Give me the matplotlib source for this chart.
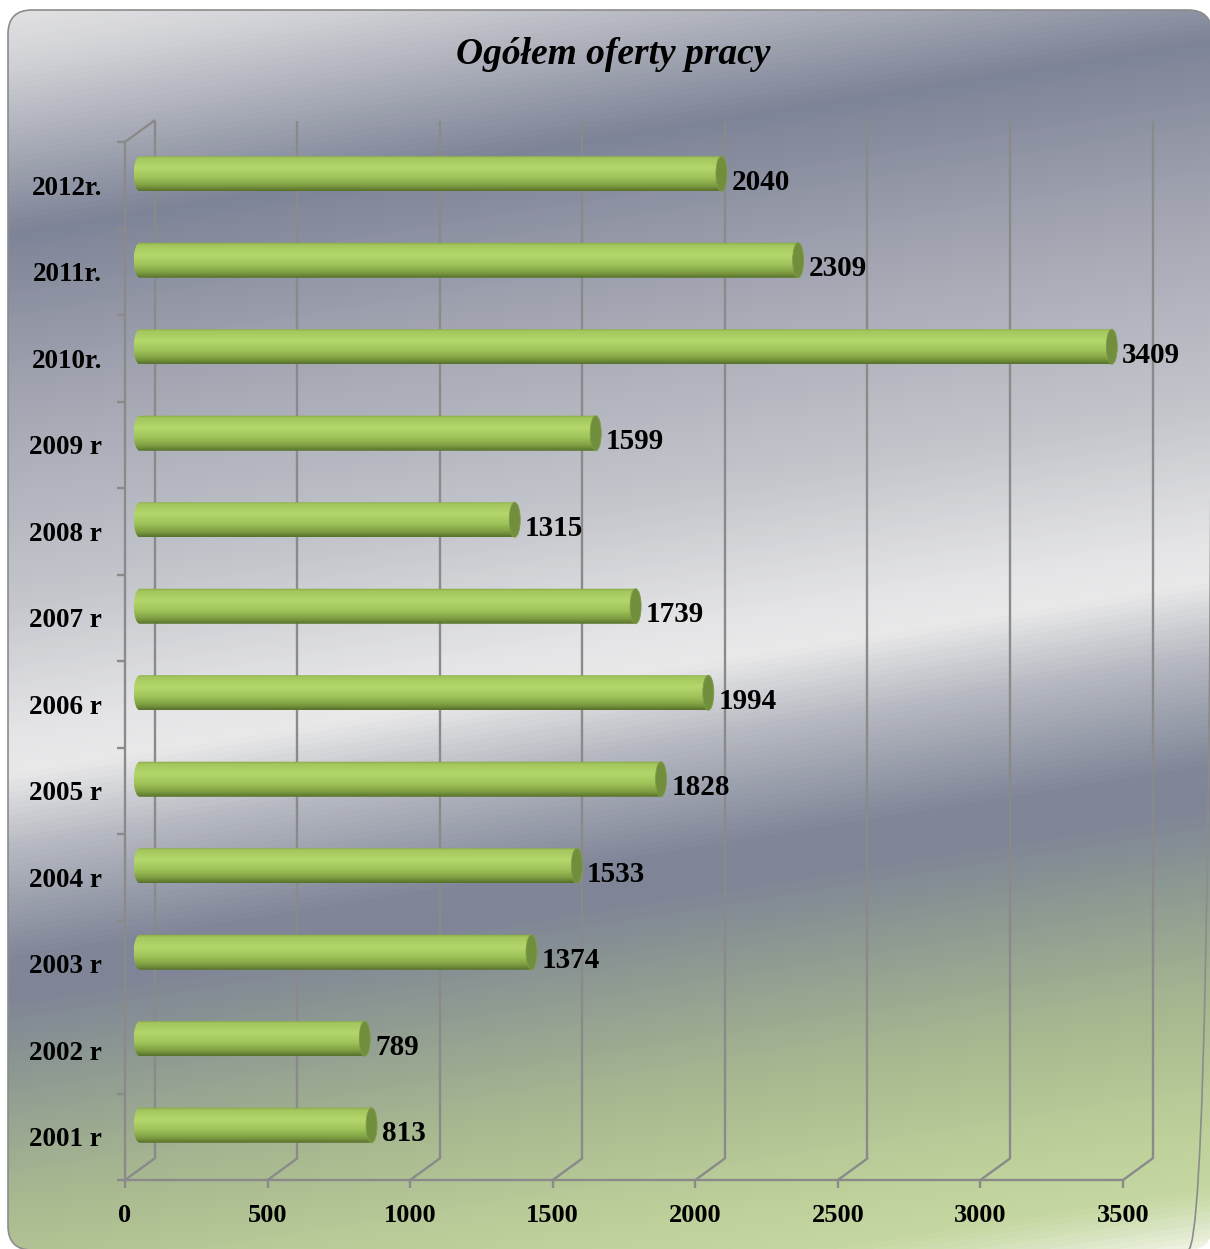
import numpy as np
import matplotlib
matplotlib.use("Agg")
import matplotlib.pyplot as plt
from matplotlib.colors import LinearSegmentedColormap
from matplotlib.patches import FancyBboxPatch, PathPatch, Ellipse
from matplotlib.path import Path
from matplotlib.transforms import Affine2D

# ---------------- data ----------------
categories = ['2001 r', '2002 r', '2003 r', '2004 r', '2005 r', '2006 r',
              '2007 r', '2008 r', '2009 r', '2010r.', '2011r.', '2012r.']
values = [813, 789, 1374, 1533, 1828, 1994, 1739, 1315, 1599, 3409, 2309, 2040]
xticks = [0, 500, 1000, 1500, 2000, 2500, 3000, 3500]
title = 'Ogółem oferty pracy'

W, H = 1210, 1249
fig = plt.figure(figsize=(W / 100, H / 100), dpi=100)
fig.patch.set_facecolor('white')

# ---------------- background ----------------
bg = fig.add_axes([0, 0, 1, 1], zorder=-5)
bg.axis('off')
stops = [
    (0, '#e4e4e6'), (60, '#d2d3d7'), (232, '#7e8497'), (400, '#a3a6b2'),
    (600, '#c4c6cc'), (740, '#e6e6e8'), (775, '#e9e9ea'), (850, '#b6b9c1'),
    (960, '#818799'), (1000, '#7f8597'), (1080, '#8e9a92'), (1200, '#a8b890'),
    (1320, '#bdd09a'), (1385, '#c6d8a2'), (1415, '#d8e4c0'), (1450, '#f6f8f0'),
]
smax = 1450.0
bg_cmap = LinearSegmentedColormap.from_list(
    'bg', [(p / smax, c) for p, c in stops])
gx, gy = np.meshgrid(np.arange(W), np.arange(H))
s = (gy + 0.16 * gx) / smax
bgimg = bg.imshow(bg_cmap(np.clip(s, 0, 1)), extent=(0, W, H, 0),
                  aspect='auto', interpolation='bilinear', zorder=0)
frame = FancyBboxPatch((8, 10), 1212 - 8, 1250 - 10,
                       boxstyle='round,pad=0,rounding_size=24',
                       transform=bg.transData, facecolor='none',
                       edgecolor='#8c8c8c', lw=1.2, zorder=1, clip_on=False)
bg.add_patch(frame)
bgimg.set_clip_path(frame)
bg.set_xlim(0, W)
bg.set_ylim(H, 0)

# ---------------- main axes (front plane) ----------------
x0, x1, yt, yb = 125, 1123, 142, 1180
ax = fig.add_axes([x0 / W, 1 - yb / H, (x1 - x0) / W, (yb - yt) / H])
ax.patch.set_visible(False)
xmax = 3500
ymin, ymax = -0.5, len(categories) - 0.5
px_per_unit = (x1 - x0) / xmax

grid_c = '#8a8a8a'
DX, DY = 29.5, 21.5           # depth offset in pixels (right, up)
back = ax.transData + Affine2D().translate(DX, DY)
mid = ax.transData + Affine2D().translate(DX / 2, 11.5)

# back wall gridlines
for xv in xticks:
    ax.plot([xv, xv], [ymin, ymax], color=grid_c, lw=1.7,
            transform=back, clip_on=False, zorder=1, solid_capstyle='butt')
    # floor diagonals
    ax.annotate('', xy=(xv, ymin), xycoords=back, xytext=(xv, ymin),
                textcoords='data', arrowprops=dict(arrowstyle='-', color=grid_c,
                                                   lw=1.7, shrinkA=0, shrinkB=0))
# top-left diagonal
ax.annotate('', xy=(0, ymax), xycoords=back, xytext=(0, ymax), textcoords='data',
            arrowprops=dict(arrowstyle='-', color=grid_c, lw=1.7, shrinkA=0, shrinkB=0))

# spines
for side in ['top', 'right']:
    ax.spines[side].set_visible(False)
for side in ['left', 'bottom']:
    ax.spines[side].set_color(grid_c)
    ax.spines[side].set_linewidth(1.7)

# ---------------- cylinders ----------------
bar_h = 0.405
e_left = 6.0 / px_per_unit
e_cap = 5.5 / px_per_unit
grad_stops = [(0.0, '#86a845'), (0.08, '#a3c75d'), (0.35, '#b3d76b'),
              (0.62, '#a0c45b'), (0.85, '#7f9f42'), (1.0, '#58722c')]
gcm = LinearSegmentedColormap.from_list('cyl', grad_stops)
grad = gcm(np.linspace(0, 1, 64))[:, None, :3]

for i, v in enumerate(values):
    yc = i
    top, bot = yc + bar_h / 2, yc - bar_h / 2
    im = ax.imshow(grad, extent=(-e_left, v, bot, top), aspect='auto',
                   interpolation='bilinear', transform=mid, zorder=3,
                   origin='upper')
    th = np.linspace(np.pi / 2, 3 * np.pi / 2, 40)
    pts = [(e_left * np.cos(t), yc + bar_h / 2 * np.sin(t)) for t in th]
    pts += [(v, bot), (v, top), (0, top)]
    codes = [Path.MOVETO] + [Path.LINETO] * (len(pts) - 2) + [Path.CLOSEPOLY]
    cp = PathPatch(Path(pts, codes), transform=mid)
    im.set_clip_path(cp)
    cap = Ellipse((v, yc), 2 * e_cap, bar_h, transform=mid,
                  facecolor='#718e3c', edgecolor='#7f9c48', lw=0.6, zorder=4,
                  clip_on=False)
    ax.add_patch(cap)
    ax.text(v, yc, f'{v}', transform=ax.transData + Affine2D().translate(25, -4.5),
            ha='left', va='baseline', fontsize=21, fontweight='bold',
            family='Liberation Serif', color='black', zorder=5, clip_on=False)

# ---------------- axes styling ----------------
ax.set_xlim(0, xmax)
ax.set_ylim(ymin, ymax)
ax.set_xticks(xticks)
ax.set_xticklabels([str(t) for t in xticks])
ax.set_yticks(range(len(categories)))
ax.set_yticklabels(categories)
ax.set_yticks(np.arange(ymin, ymax + 0.01, 1.0), minor=True)
ax.tick_params(axis='y', which='major', length=0, pad=16.5)
ax.tick_params(axis='y', which='minor', length=5.8, width=1.7, color=grid_c)
ax.tick_params(axis='x', which='major', length=5.8, width=1.7, color=grid_c, pad=11.5)
for lab in ax.get_xticklabels():
    lab.set_fontfamily('Liberation Serif')
    lab.set_fontweight('bold')
    lab.set_fontsize(19)
for lab in ax.get_yticklabels():
    lab.set_fontfamily('Liberation Serif')
    lab.set_fontweight('bold')
    lab.set_fontsize(19.5)

fig.text(613 / W, 1 - 54 / H, title, ha='center', va='center', fontsize=27,
         fontweight='bold', fontstyle='italic', family='Liberation Serif')

fig.savefig('out.png', dpi=100, facecolor='white')
